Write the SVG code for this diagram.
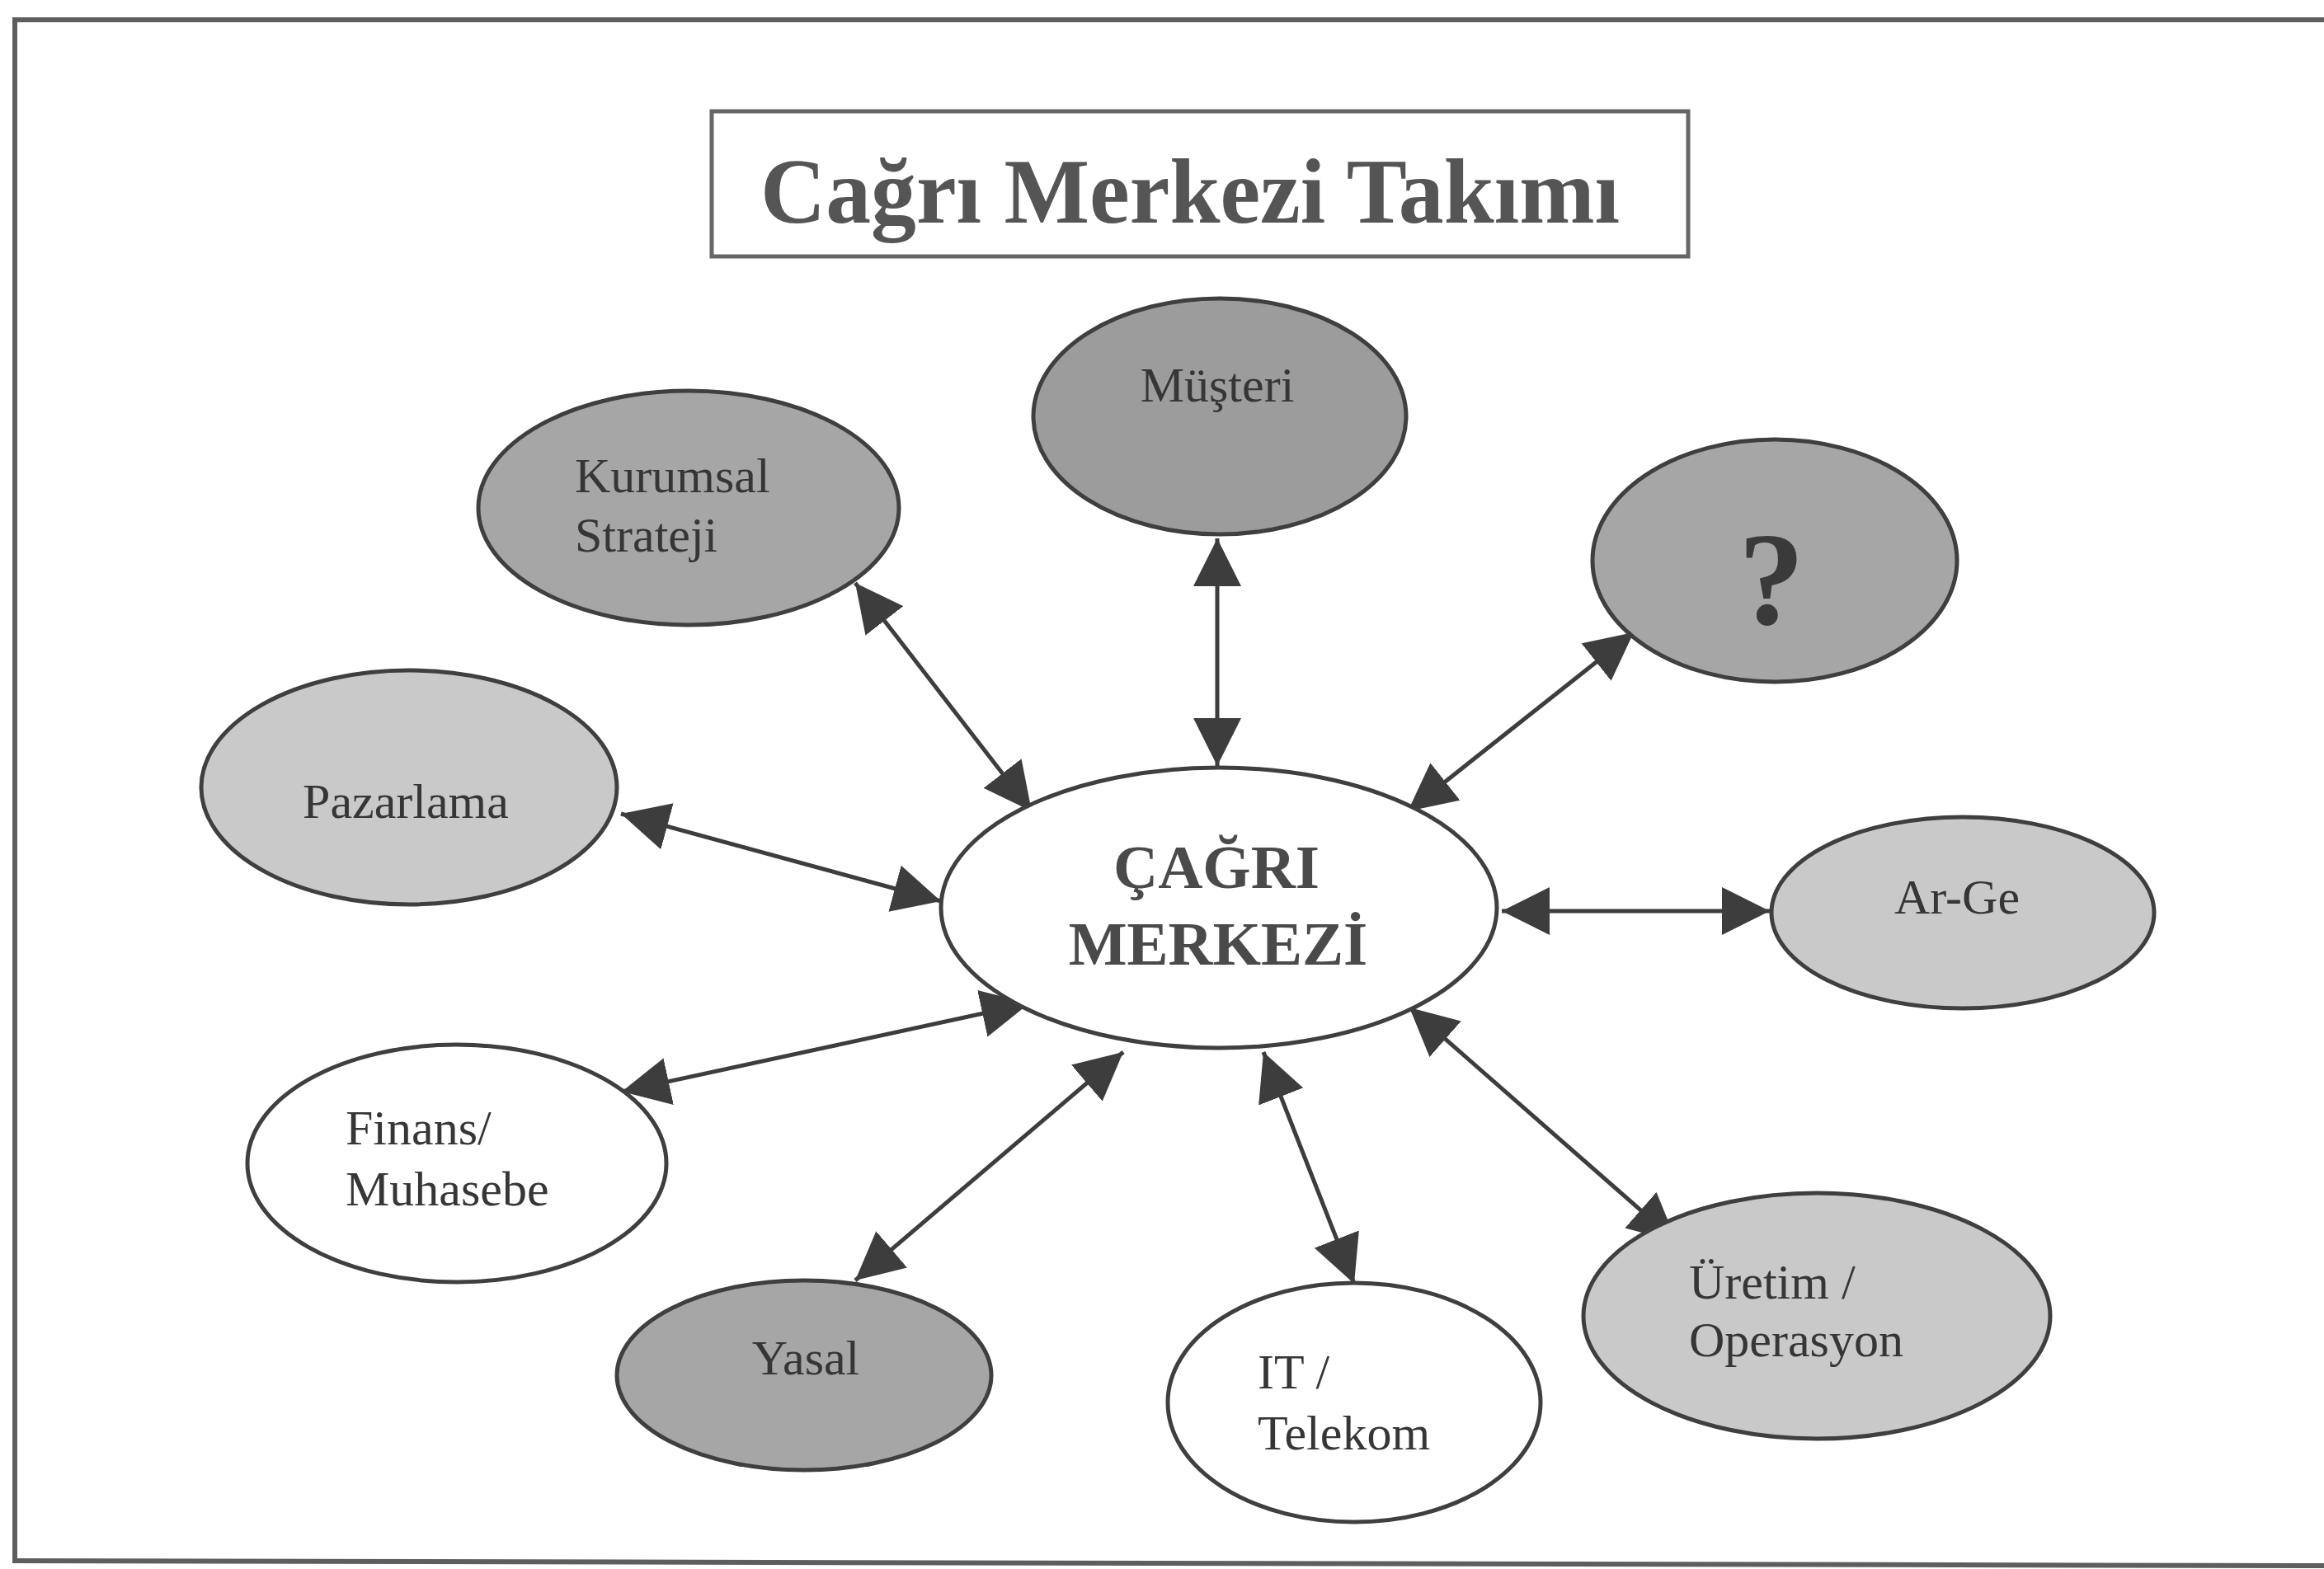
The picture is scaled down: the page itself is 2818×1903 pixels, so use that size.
<svg xmlns="http://www.w3.org/2000/svg" width="2818" height="1903" viewBox="0 0 2818 1903">
  <style>
    .frame { stroke: #5e5e5e; stroke-width: 6; fill: none; }
    .node { stroke: #3f3f3f; stroke-width: 5; }
    .dark { fill: #a6a6a6; }
    .darker { fill: #9c9c9c; }
    .light { fill: #c9c9c9; }
    .white { fill: #ffffff; }
    .lbl { font-family: "Liberation Serif", "Times New Roman", serif; font-size: 60px; fill: #363636; }
    .center { font-family: "Liberation Serif", "Times New Roman", serif; font-size: 75px; font-weight: bold; fill: #4a4a4a; text-anchor: middle; }
    .conn { stroke: #3d3d3d; stroke-width: 5; fill: none; marker-start: url(#ah); marker-end: url(#ah); }
  </style>
  <defs>
    <marker id="ah" viewBox="0 0 58 58" refX="58" refY="29" markerWidth="58" markerHeight="58" markerUnits="userSpaceOnUse" orient="auto-start-reverse">
      <path d="M0,0 L58,29 L0,58 z" fill="#3d3d3d"/>
    </marker>
  </defs>
  <rect width="2818" height="1903" fill="#ffffff"/>
  <g id="frame">
    <line class="frame" x1="15" y1="24" x2="2818" y2="24"/>
    <line class="frame" x1="18" y1="21" x2="18" y2="1896"/>
    <line class="frame" x1="15" y1="1893" x2="2818" y2="1899"/>
  </g>
  <g id="title">
    <rect x="863" y="135" width="1184" height="176" fill="#ffffff" stroke="#666666" stroke-width="5"/>
    <text x="1443" y="270" text-anchor="middle" font-family="Liberation Serif, 'Times New Roman', serif" font-size="113" font-weight="bold" fill="#555555" textLength="1042" lengthAdjust="spacingAndGlyphs">Cağrı Merkezi Takımı</text>
  </g>
  <g id="connectors">
    <line class="conn" x1="1037" y1="707" x2="1251" y2="984"/>
    <line class="conn" x1="1476" y1="653" x2="1476" y2="929"/>
    <line class="conn" x1="1981" y1="767" x2="1707" y2="984"/>
    <line class="conn" x1="753" y1="987" x2="1141" y2="1093"/>
    <line class="conn" x1="1821" y1="1105" x2="2146" y2="1105"/>
    <line class="conn" x1="1248" y1="1217" x2="754" y2="1324"/>
    <line class="conn" x1="1362" y1="1276" x2="1037" y2="1553"/>
    <line class="conn" x1="1532" y1="1276" x2="1642" y2="1557"/>
    <line class="conn" x1="1709" y1="1222" x2="2033" y2="1506"/>
  </g>
  <g id="node-cagri-merkezi">
    <ellipse class="node white" cx="1478" cy="1101" rx="337" ry="170"/>
    <text class="center" x="1475" y="1077">ÇAĞRI</text>
    <text class="center" x="1477" y="1170">MERKEZİ</text>
  </g>
  <g id="node-musteri">
    <ellipse class="node darker" cx="1479" cy="505" rx="226" ry="143"/>
    <text class="lbl" x="1476" y="487" text-anchor="middle">Müşteri</text>
  </g>
  <g id="node-kurumsal-strateji">
    <ellipse class="node dark" cx="835" cy="616" rx="255" ry="142"/>
    <text class="lbl" x="697" y="597">Kurumsal</text>
    <text class="lbl" x="697" y="669">Strateji</text>
  </g>
  <g id="node-soru">
    <ellipse class="node dark" cx="2152" cy="680" rx="221" ry="147"/>
    <text x="2148" y="757" text-anchor="middle" font-family="Liberation Serif, 'Times New Roman', serif" font-size="160" font-weight="bold" fill="#3a3a3a">?</text>
  </g>
  <g id="node-pazarlama">
    <ellipse class="node light" cx="496" cy="955" rx="252" ry="142"/>
    <text class="lbl" x="492" y="992" text-anchor="middle">Pazarlama</text>
  </g>
  <g id="node-ar-ge">
    <ellipse class="node light" cx="2380" cy="1107" rx="232" ry="116"/>
    <text class="lbl" x="2373" y="1108" text-anchor="middle">Ar-Ge</text>
  </g>
  <g id="node-uretim-operasyon">
    <ellipse class="node light" cx="2203" cy="1596" rx="283" ry="149"/>
    <text class="lbl" x="2048" y="1575">Üretim /</text>
    <text class="lbl" x="2048" y="1645">Operasyon</text>
  </g>
  <g id="node-finans-muhasebe">
    <ellipse class="node white" cx="554" cy="1411" rx="254" ry="144"/>
    <text class="lbl" x="419" y="1388">Finans/</text>
    <text class="lbl" x="419" y="1462">Muhasebe</text>
  </g>
  <g id="node-yasal">
    <ellipse class="node dark" cx="975" cy="1668" rx="227" ry="115"/>
    <text class="lbl" x="977" y="1667" text-anchor="middle">Yasal</text>
  </g>
  <g id="node-it-telekom">
    <ellipse class="node white" cx="1642" cy="1701" rx="226" ry="145"/>
    <text class="lbl" x="1525" y="1684">IT /</text>
    <text class="lbl" x="1525" y="1758">Telekom</text>
  </g>
</svg>
